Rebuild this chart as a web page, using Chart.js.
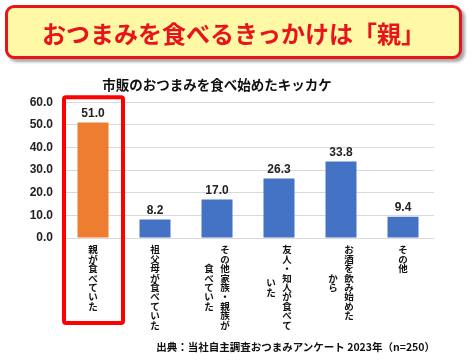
<!DOCTYPE html>
<html>
<head>
<meta charset="utf-8">
<script src="https://cdn.jsdelivr.net/npm/chart.js@4"></script>
<style>
  html, body { margin:0; padding:0; background:#fff; }
  #wrap { position:relative; width:472px; height:362px; overflow:hidden; }
  #banner {
    position:absolute; left:5px; top:5px; width:451px; height:48px;
    background:#fff9a6; border:3px solid #e8141b; border-radius:9px;
    box-shadow:3px 3px 3px rgba(0,0,0,0.35);
    display:flex; align-items:center; justify-content:center;
    font-family:"Noto Sans CJK JP", sans-serif; font-weight:bold;
    font-size:24px; color:#e8141b;
  }
  #src {
    position:absolute; right:37px; top:339px;
    font-family:"Noto Sans CJK JP", sans-serif; font-weight:bold;
    font-size:10.5px; color:#111; white-space:nowrap;
  }
  canvas { position:absolute; left:0; top:0; }
</style>
</head>
<body>
<div id="wrap">
  <canvas id="c" width="472" height="362"></canvas>
  <div id="banner">おつまみを食べるきっかけは「親」</div>
  <div id="src">出典：当社自主調査おつまみアンケート 2023年（n=250）</div>
</div>
<script>
// ---- data ----
const chartTitle = "市販のおつまみを食べ始めたキッカケ";
const categories = ["親が食べていた", "祖父母が食べていた", "その他家族・親族が食べていた", "友人・知人が食べていた", "お酒を飲み始めたから", "その他"];
// label columns as written vertically (first entry = rightmost column)
const labelColumns = [
  ["親が食べていた"],
  ["祖父母が食べていた"],
  ["その他家族・親族が", "食べていた"],
  ["友人・知人が食べて", "いた"],
  ["お酒を飲み始めた", "から"],
  ["その他"]
];
const values = [51.0, 8.2, 17.0, 26.3, 33.8, 9.4];
const barColors = ["#ED7D31", "#4472C4", "#4472C4", "#4472C4", "#4472C4", "#4472C4"];
const highlightIndex = 0;
const yMin = 0, yMax = 60, yStep = 10;

const numFont = '"Liberation Sans", "Noto Sans CJK JP", sans-serif';

const overlayPlugin = {
  id: 'overlay',
  afterDatasetsDraw(chart) {
    const ctx = chart.ctx;
    const meta = chart.getDatasetMeta(0);
    const xs = chart.scales.x;
    const area = chart.chartArea;
    ctx.save();
    // value labels
    ctx.font = 'bold 12px ' + numFont;
    ctx.fillStyle = '#222';
    ctx.textAlign = 'center';
    ctx.textBaseline = 'bottom';
    meta.data.forEach((bar, i) => {
      ctx.fillText(values[i].toFixed(1), bar.x, bar.y - 3);
    });
    // vertical category labels
    ctx.font = 'bold 9.5px "Noto Sans CJK JP", sans-serif';
    ctx.fillStyle = '#111';
    ctx.textBaseline = 'top';
    const step = 9.4, colGap = 16, top = area.bottom + 7;
    labelColumns.forEach((cols, i) => {
      const cx = xs.getPixelForValue(i);
      const maxLen = Math.max(...cols.map(c => [...c].length));
      const n = cols.length;
      cols.forEach((col, k) => {
        const chars = [...col];
        const x = cx + ((n - 1) / 2 - k) * colGap;
        const y0 = top + (maxLen - chars.length) * step / 2;
        chars.forEach((ch, j) => {
          ctx.fillText(ch, x, y0 + j * step);
        });
      });
    });
    // red highlight frame
    const half = (xs.getPixelForValue(1) - xs.getPixelForValue(0)) / 2;
    const hx = xs.getPixelForValue(highlightIndex);
    ctx.strokeStyle = '#ff0000';
    ctx.lineWidth = 4;
    ctx.lineJoin = 'round';
    const L = hx - half + 2, R = hx + half - 1, T = area.top - 5, B = area.bottom + 85;
    ctx.beginPath();
    ctx.roundRect(L, T, R - L, B - T, 2);
    ctx.stroke();
    ctx.restore();
  }
};

new Chart(document.getElementById('c'), {
  type: 'bar',
  data: {
    labels: categories,
    datasets: [{
      data: values,
      backgroundColor: barColors,
      barPercentage: 0.5,
      categoryPercentage: 1.0
    }]
  },
  options: {
    responsive: false,
    animation: false,
    layout: { padding: { top: 77, right: 38, bottom: 0, left: 0 } },
    plugins: {
      legend: { display: false },
      tooltip: { enabled: false },
      title: {
        display: true,
        text: chartTitle,
        color: '#111',
        font: { family: '"Noto Sans CJK JP", sans-serif', size: 13.5, weight: 'bold' },
        padding: { top: 0, bottom: 9 }
      }
    },
    scales: {
      x: {
        ticks: { display: false },
        grid: { display: false, drawTicks: false },
        border: { display: false },
        afterFit(s) { s.height = 124; }
      },
      y: {
        min: yMin, max: yMax,
        ticks: {
          stepSize: yStep,
          padding: 9,
          color: '#222',
          font: { family: numFont, size: 12, weight: 'bold' },
          callback: v => v.toFixed(1)
        },
        grid: { color: '#d9d9d9', drawTicks: false },
        border: { display: false },
        afterFit(s) { s.width = 62; }
      }
    }
  },
  plugins: [overlayPlugin]
});
</script>
</body>
</html>
